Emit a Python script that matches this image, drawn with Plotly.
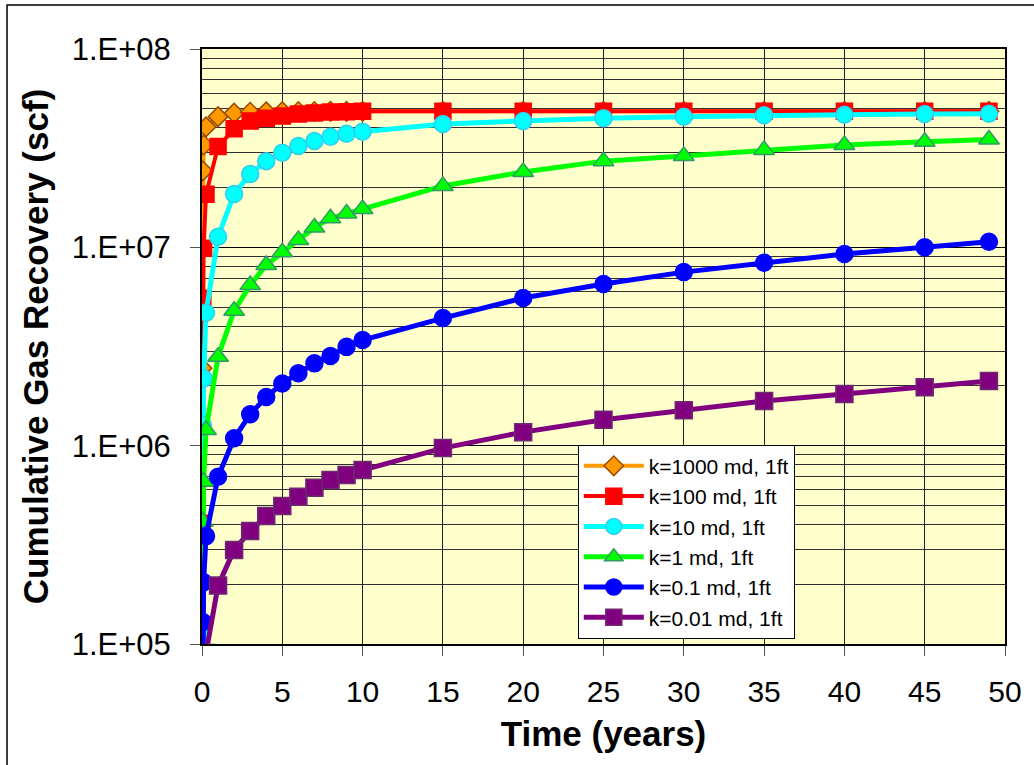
import plotly.graph_objects as go

# Production time (years)
time_years = [0.003, 0.05, 0.1, 0.25, 1, 2, 3, 4, 5, 6, 7, 8, 9, 10,
              15, 20, 25, 30, 35, 40, 45, 49]

# Cumulative gas recovery (scf) for each permeability case
k1000 = [2.46e6, 2.43e7, 3.28e7, 4.05e7, 4.56e7, 4.75e7, 4.80e7, 4.82e7, 4.83e7, 4.84e7,
         4.84e7, 4.85e7, 4.85e7, 4.85e7, 4.85e7, 4.85e7, 4.85e7, 4.85e7, 4.85e7, 4.85e7,
         4.85e7, 4.85e7]
k100 = [4.06e5, 5.53e6, 9.9e6, 1.85e7, 3.22e7, 3.96e7, 4.33e7, 4.47e7, 4.59e7, 4.70e7,
        4.76e7, 4.81e7, 4.83e7, 4.85e7, 4.85e7, 4.85e7, 4.85e7, 4.85e7, 4.85e7, 4.85e7,
        4.85e7, 4.85e7]
k10 = [1.11e5, 1.27e6, 2.18e6, 4.68e6, 1.13e7, 1.86e7, 2.34e7, 2.72e7, 3.00e7, 3.24e7,
       3.44e7, 3.61e7, 3.74e7, 3.83e7, 4.19e7, 4.33e7, 4.48e7, 4.55e7, 4.63e7, 4.66e7,
       4.70e7, 4.72e7]
k1 = [3.5e4, 4.13e5, 6.58e5, 1.2e6, 2.81e6, 4.79e6, 6.45e6, 8.14e6, 9.44e6, 1.09e7,
      1.26e7, 1.40e7, 1.48e7, 1.56e7, 2.04e7, 2.40e7, 2.72e7, 2.89e7, 3.10e7, 3.28e7,
      3.41e7, 3.50e7]
k01 = [1.1e4, 1.29e5, 2.05e5, 3.50e5, 6.97e5, 1.09e6, 1.44e6, 1.76e6, 2.06e6, 2.32e6,
       2.60e6, 2.83e6, 3.15e6, 3.41e6, 4.40e6, 5.55e6, 6.53e6, 7.50e6, 8.36e6, 9.25e6,
       1.00e7, 1.067e7]
k001 = [3.0e3, 3.3e4, 5.3e4, 9.0e4, 1.97e5, 2.98e5, 3.71e5, 4.42e5, 4.96e5, 5.53e5,
        6.13e5, 6.71e5, 7.11e5, 7.53e5, 9.72e5, 1.17e6, 1.35e6, 1.51e6, 1.68e6, 1.82e6,
        1.97e6, 2.12e6]

series_names = ["k=1000 md, 1ft", "k=100 md, 1ft", "k=10 md, 1ft",
                "k=1 md, 1ft", "k=0.1 md, 1ft", "k=0.01 md, 1ft"]
series_values = [k1000, k100, k10, k1, k01, k001]

y_tick_values = [1e5, 1e6, 1e7, 1e8]
y_tick_labels = ["1.E+05", "1.E+06", "1.E+07", "1.E+08"]
x_tick_values = list(range(0, 51, 5))

styles = [
    dict(line="#FF9900", fill="#FF9900", edge="#994C00", symbol="diamond", size=15, lw=4),
    dict(line="#FF0000", fill="#FF0000", edge="#FF0000", symbol="square", size=16, lw=4),
    dict(line="#00FFFF", fill="#00FFFF", edge="#33CCEE", symbol="circle", size=17, lw=5),
    dict(line="#00FF00", fill="#00FF00", edge="#339966", symbol="triangle-up", size=18, lw=5),
    dict(line="#0000FF", fill="#0000FF", edge="#0000FF", symbol="circle", size=17, lw=5),
    dict(line="#800080", fill="#800080", edge="#6E2A6E", symbol="square", size=17, lw=5),
]

FONT = "Arial, 'Liberation Sans', sans-serif"

fig = go.Figure()
for name, vals, st in zip(series_names, series_values, styles):
    fig.add_trace(go.Scatter(
        x=time_years, y=vals, name=name, mode="lines+markers",
        line=dict(color=st["line"], width=st["lw"]),
        marker=dict(symbol=st["symbol"], size=st["size"], color=st["fill"],
                    line=dict(color=st["edge"], width=1.5)),
    ))

fig.update_layout(
    width=1034, height=765,
    margin=dict(l=202, r=29, t=49, b=121),
    paper_bgcolor="white",
    plot_bgcolor="#FFFFCC",
    font=dict(family=FONT, color="black"),
    showlegend=True,
    legend=dict(
        x=0.468, y=0.335, xanchor="left", yanchor="top",
        bgcolor="white", bordercolor="black", borderwidth=1,
        font=dict(size=21, family=FONT),
        itemsizing="trace", itemwidth=60, tracegroupgap=0,
    ),
    shapes=[dict(type="rect", xref="paper", yref="paper",
                 x0=-0.2428, x1=1.06, y0=-0.22, y1=1.0739,
                 line=dict(color="black", width=1.5), layer="below")],
)

fig.update_xaxes(
    range=[0, 50], tickvals=x_tick_values,
    showgrid=True, gridcolor="#202020", gridwidth=1,
    showline=True, linecolor="black", linewidth=2, mirror=True,
    ticks="outside", ticklen=10, tickcolor="#555555",
    tickfont=dict(size=30, family=FONT), ticklabelstandoff=10,
    title=dict(text="<b>Time (years)</b>", font=dict(size=35, family=FONT), standoff=14),
    zeroline=False,
)

fig.update_yaxes(
    type="log", range=[5, 8],
    tickvals=y_tick_values, ticktext=y_tick_labels,
    showgrid=True, gridcolor="#000000", gridwidth=1,
    minor=dict(dtick="D1", showgrid=True, gridcolor="#303030", gridwidth=1, ticks=""),
    showline=True, linecolor="black", linewidth=2, mirror=True,
    ticks="outside", ticklen=10, tickcolor="#555555",
    tickfont=dict(size=31, family=FONT), ticklabelstandoff=13,
    title=dict(text="<b>Cumulative Gas Recovery (scf)</b>", font=dict(size=35, family=FONT), standoff=12),
    zeroline=False,
)

fig.write_html("out.html")
